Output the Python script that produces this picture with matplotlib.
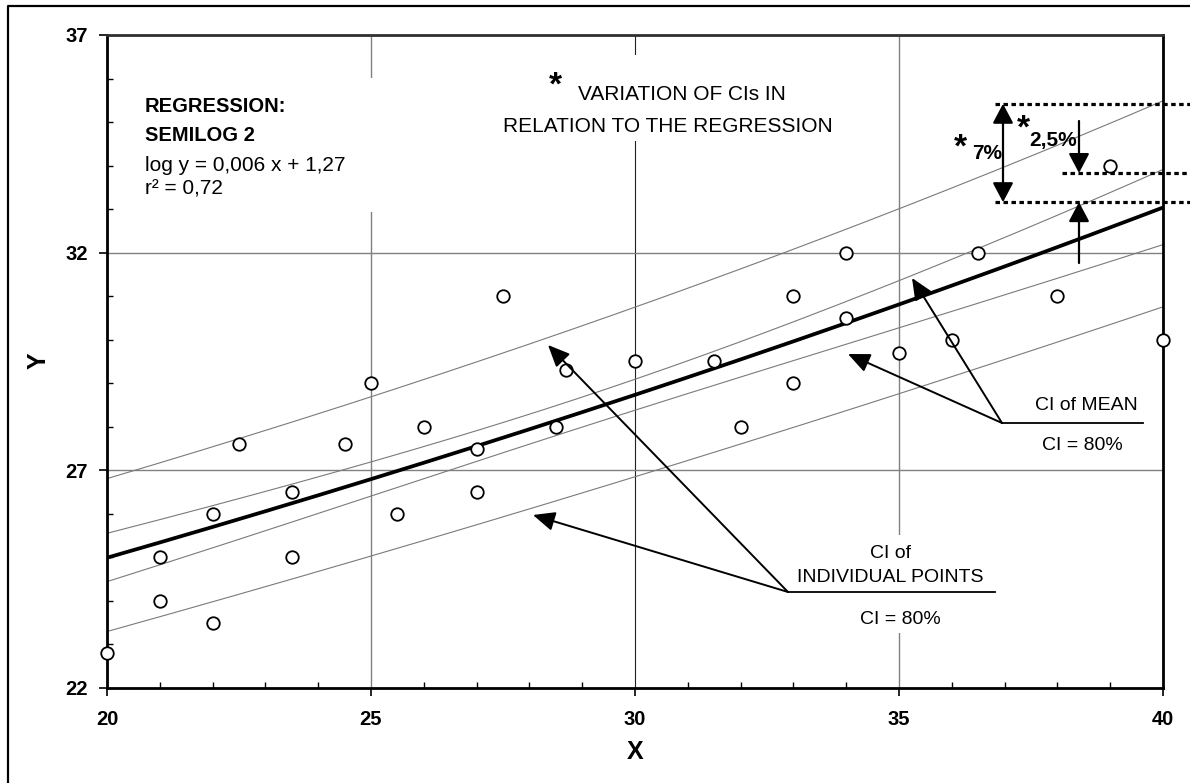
import numpy as np
import matplotlib
matplotlib.use('Agg')
import matplotlib.pyplot as plt
from matplotlib.patches import Rectangle
from matplotlib.lines import Line2D
from matplotlib.ticker import MultipleLocator

plt.rcParams['font.family'] = ['Liberation Sans', 'DejaVu Sans']

# ---------------- data ----------------
x_obs = [20, 21, 21, 22, 22, 22.5, 23.5, 23.5, 24.5, 25, 25.5, 26, 27, 27, 27.5,
         28.5, 28.7, 30, 31.5, 32, 33, 33, 34, 34, 35, 36, 36.5, 38, 39, 40]
y_obs = [22.8, 25.0, 24.0, 26.0, 23.5, 27.6, 26.5, 25.0, 27.6, 29.0, 26.0, 28.0, 27.5, 26.5, 31.0,
         28.0, 29.3, 29.5, 29.5, 28.0, 31.0, 29.0, 30.5, 32.0, 29.7, 30.0, 32.0, 31.0, 34.0, 30.0]

reg_slope = 0.00606      # log10(y) = slope*x + intercept (as drawn)
reg_intercept = 1.2766
z_ci80 = 1.2816          # two-sided 80 % quantile

# levels marked by the dotted reference lines
level_ind = 35.42
level_mean = 33.83
level_reg = 33.16

x_ticks = [20, 25, 30, 35, 40]
y_ticks = [22, 27, 32, 37]
x_lim = (20, 40)
y_lim = (22, 37)

# ---------------- model ----------------
xa = np.array(x_obs, float)
ya = np.array(y_obs, float)
n = len(xa)
resid = np.log10(ya) - (reg_intercept + reg_slope * xa)
s = np.sqrt(np.sum(resid ** 2) / (n - 2))
xbar = xa.mean()
sxx = np.sum((xa - xbar) ** 2)

xs = np.linspace(x_lim[0], x_lim[1], 201)
fit = reg_intercept + reg_slope * xs
se_mean = s * np.sqrt(1 / n + (xs - xbar) ** 2 / sxx)
se_ind = s * np.sqrt(1 + 1 / n + (xs - xbar) ** 2 / sxx)
reg = 10 ** fit
mean_up = 10 ** (fit + z_ci80 * se_mean)
mean_lo = 10 ** (fit - z_ci80 * se_mean)
ind_up = 10 ** (fit + z_ci80 * se_ind)
ind_lo = 10 ** (fit - z_ci80 * se_ind)

# ---------------- figure ----------------
W, H = 1190, 783
fig = plt.figure(figsize=(W / 100, H / 100), dpi=100)
L, R, T, B = 107, 1163, 35, 688
ax = fig.add_axes([L / W, 1 - B / H, (R - L) / W, (B - T) / H])
ax.set_xlim(*x_lim)
ax.set_ylim(*y_lim)


def px(xp, yp):
    """image pixel position -> data coordinates (for annotation placement)"""
    return (x_lim[0] + (xp - L) / (R - L) * (x_lim[1] - x_lim[0]),
            y_lim[0] + (B - yp) / (B - T) * (y_lim[1] - y_lim[0]))


ax.set_axisbelow(True)
ax.grid(which='major', color='#808080', lw=1.0)
ax.xaxis.get_gridlines()[2].set_color('#202020')
ax.xaxis.get_gridlines()[2].set_linewidth(0.8)

# white boxes behind text blocks (hide grid)
for (x0, y0, x1, y1) in [(125, 78, 385, 212), (500, 55, 845, 141), (800, 535, 1000, 633)]:
    a0 = px(x0, y1)
    a1 = px(x1, y0)
    ax.add_patch(Rectangle(a0, a1[0] - a0[0], a1[1] - a0[1], facecolor='white',
                           edgecolor='none', zorder=1))

# bands and regression
for band in (ind_up, ind_lo, mean_up, mean_lo):
    ax.plot(xs, band, color='#7a7a7a', lw=0.8, zorder=2)
ax.plot(xs, reg, color='black', lw=2.7, zorder=3)

ax.plot(x_obs, y_obs, linestyle='none', marker='o', ms=9, mfc='white', mec='black',
        mew=1.3, zorder=4, clip_on=False)

# ticks / spines
ax.set_xticks(x_ticks)
ax.set_yticks(y_ticks)
ax.xaxis.set_minor_locator(MultipleLocator(1))
ax.yaxis.set_minor_locator(MultipleLocator(1))
ax.tick_params(which='major', direction='out', length=6, width=1.2, labelsize=14.5)
ax.tick_params(axis='x', which='major', pad=10)
ax.tick_params(axis='y', which='major', pad=8)
ax.tick_params(which='minor', direction='in', length=4, width=1)
for lbl in ax.get_xticklabels() + ax.get_yticklabels():
    lbl.set_fontweight('bold')
for sp in ax.spines.values():
    sp.set_linewidth(2)
    sp.set_color('black')
ax.spines['top'].set_color('#303030')

ax.set_xlabel('X', fontsize=18, fontweight='bold', labelpad=8)
ax.set_ylabel('Y', fontsize=18, fontweight='bold', rotation=90, va='center', ha='center')
ax.yaxis.set_label_coords((39 - L) / (R - L), 1 - (361 - T) / (B - T))

# regression text
tx, _ = px(145, 0)
ax.text(tx, px(0, 112)[1], 'REGRESSION:', fontsize=14.5, fontweight='bold', va='baseline', zorder=5)
ax.text(tx, px(0, 141)[1], 'SEMILOG 2', fontsize=14.5, fontweight='bold', va='baseline', zorder=5)
ax.text(tx, px(0, 171)[1], 'log y = 0,006 x + 1,27', fontsize=15, va='baseline', zorder=5)
ax.text(tx, px(0, 195)[1], 'r² = 0,72', fontsize=15, va='baseline', zorder=5)

# variation text
star = dict(fontsize=24, fontweight='bold', ha='center', va='center')
ax.text(*px(555, 86), '*', zorder=5, **star)
ax.text(*px(682, 100), 'VARIATION OF CIs IN', fontsize=15, ha='center', va='baseline', zorder=5)
ax.text(*px(668, 132), 'RELATION TO THE REGRESSION', fontsize=15, ha='center', va='baseline', zorder=5)

# dotted reference lines
x_end = px(W, 0)[0]
dot = dict(color='black', lw=2.3, linestyle=(0, (1.4, 1.1)), clip_on=False, zorder=6)
ax.plot([px(995, 0)[0], x_end], [level_ind, level_ind], **dot)
ax.plot([px(1062, 0)[0], x_end], [level_mean, level_mean], **dot)
ax.plot([px(995, 0)[0], x_end], [level_reg, level_reg], **dot)

head = dict(mutation_scale=14, color='black', lw=1.6, shrinkA=0, shrinkB=0)
# 7% double arrow
xa7 = px(1003, 0)[0]
ax.annotate('', xy=(xa7, level_ind), xytext=(xa7, level_reg),
            arrowprops=dict(arrowstyle='<|-|>,head_length=0.85,head_width=0.45', **head), zorder=6)
ax.text(*px(960, 148), '*', zorder=6, **star)
ax.text(*px(972, 159), '7%', fontsize=15, fontweight='bold', va='baseline', zorder=6)

# 2.5 % arrows
xa25 = px(1079, 0)[0]
ax.annotate('', xy=(xa25, level_mean), xytext=px(1079, 121),
            arrowprops=dict(arrowstyle='-|>,head_length=0.85,head_width=0.45', **head), zorder=6)
ax.annotate('', xy=(xa25, level_reg), xytext=px(1079, 263),
            arrowprops=dict(arrowstyle='-|>,head_length=0.85,head_width=0.45', **head), zorder=6)
ax.text(*px(1023, 129), '*', zorder=6, **star)
ax.text(*px(1029, 146), '2,5%', fontsize=15, fontweight='bold', va='baseline', zorder=6)

arrow_kw = dict(arrowstyle='-|>,head_length=0.95,head_width=0.42', mutation_scale=14,
                color='black', lw=1.4, shrinkA=0, shrinkB=0)

# CI of mean
elbow_m = px(1002, 423)
for tip in (px(912, 278), px(848, 354)):
    ax.annotate('', xy=tip, xytext=elbow_m, arrowprops=arrow_kw, zorder=6)
ax.plot([elbow_m[0], px(1143, 0)[0]], [elbow_m[1], elbow_m[1]], color='black', lw=1.3, zorder=6)
ax.text(*px(1086, 410), 'CI of MEAN', fontsize=14, ha='center', va='baseline', zorder=6)
ax.text(*px(1082, 450), 'CI = 80%', fontsize=14, ha='center', va='baseline', zorder=6)

# CI of individual points
elbow_i = px(788, 592)
for tip in (px(548, 345), px(533, 515)):
    ax.annotate('', xy=tip, xytext=elbow_i, arrowprops=arrow_kw, zorder=6)
ax.plot([elbow_i[0], px(995, 0)[0]], [elbow_i[1], elbow_i[1]], color='black', lw=1.3, zorder=6)
ax.text(*px(890, 558), 'CI of', fontsize=14, ha='center', va='baseline', zorder=6)
ax.text(*px(890, 582), 'INDIVIDUAL POINTS', fontsize=14, ha='center', va='baseline', zorder=6)
ax.text(*px(900, 624), 'CI = 80%', fontsize=14, ha='center', va='baseline', zorder=6)

# outer frame (left and top edges visible)
fig.add_artist(Line2D([8 / W, 8 / W, 1.0], [0.0, 1 - 6 / H, 1 - 6 / H],
                      transform=fig.transFigure, color='black', lw=1.6))

fig.savefig('out.png', dpi=100)
